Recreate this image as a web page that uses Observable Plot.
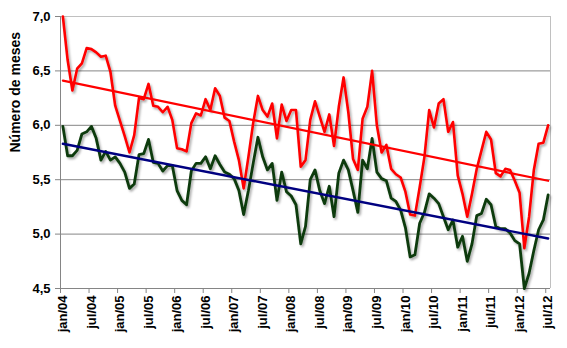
<!DOCTYPE html>
<html><head><meta charset="utf-8">
<script src="https://cdn.jsdelivr.net/npm/d3@7"></script>
<script src="https://cdn.jsdelivr.net/npm/@observablehq/plot@0.6"></script>
<style>
html,body{margin:0;padding:0;background:#fff;}
</style>
</head><body><div id="chart"></div>
<script>
// Month labels shown every 6 months (jan/04 ... jul/12), 103 monthly points
const tickLabels = ["jan/04","jul/04","jan/05","jul/05","jan/06","jul/06","jan/07","jul/07","jan/08","jul/08","jan/09","jul/09","jan/10","jul/10","jan/11","jul/11","jan/12","jul/12"];

const redValues = [
  7.00,6.60,6.32,6.52,6.57,6.71,6.70,6.67,6.63,6.64,6.49,6.18,
  6.04,5.90,5.75,5.91,6.25,6.24,6.38,6.18,6.17,6.12,6.17,6.05,
  5.79,5.78,5.76,6.02,6.11,6.09,6.24,6.14,6.34,6.27,6.07,6.04,
  5.85,5.68,5.42,5.71,6.02,6.27,6.14,6.08,6.20,5.88,6.19,6.04,
  6.14,6.14,5.62,5.68,6.05,6.22,6.08,5.94,6.10,5.81,6.17,6.44,
  6.12,5.69,5.59,6.06,6.17,6.50,6.00,5.75,5.82,5.60,5.55,5.52,
  5.39,5.18,5.17,5.43,5.71,6.14,5.98,6.20,6.24,5.94,6.03,5.54,
  5.37,5.16,5.37,5.60,5.77,5.94,5.87,5.56,5.53,5.60,5.59,5.49,
  5.38,4.87,5.16,5.59,5.83,5.84,6.00
];

const greenValues = [
  5.99,5.72,5.72,5.77,5.92,5.94,5.99,5.88,5.68,5.76,5.68,5.71,
  5.65,5.57,5.42,5.46,5.73,5.74,5.87,5.66,5.65,5.58,5.63,5.63,
  5.40,5.31,5.27,5.58,5.65,5.65,5.71,5.60,5.72,5.64,5.57,5.55,
  5.51,5.40,5.18,5.40,5.65,5.89,5.71,5.59,5.65,5.31,5.57,5.39,
  5.35,5.27,4.91,5.07,5.50,5.59,5.40,5.28,5.44,5.16,5.56,5.68,
  5.59,5.40,5.20,5.68,5.60,5.88,5.57,5.51,5.49,5.33,5.30,5.22,
  5.06,4.79,4.81,5.10,5.20,5.37,5.33,5.28,5.16,5.04,5.13,4.88,
  4.98,4.75,4.91,5.17,5.19,5.32,5.27,5.07,5.05,5.05,5.01,4.94,
  4.91,4.50,4.64,4.85,5.04,5.13,5.36
];

// Trend lines (start and end values)
const trendIndex = [0, 102];
const redTrend = [6.41, 5.49];
const blueTrend = [5.83, 4.96];

const yTicks = [4.5, 5.0, 5.5, 6.0, 6.5, 7.0];

const rows = redValues.map((v, i) => ({i, red: v, green: greenValues[i]}));
const redTrendRows = trendIndex.map((i, k) => ({i, v: redTrend[k]}));
const blueTrendRows = trendIndex.map((i, k) => ({i, v: blueTrend[k]}));
const labelIdx = tickLabels.map((_, k) => k * 6);
const boundaryIdx = tickLabels.map((_, k) => k * 6 - 0.5);

const chart = Plot.plot({
  width: 567, height: 348,
  marginLeft: 60, marginRight: 17, marginTop: 16, marginBottom: 60,
  style: {fontFamily: "'Liberation Sans', Arial, sans-serif", fontSize: "13px", fontWeight: "bold", color: "#000", background: "#fff"},
  x: {type: "linear", domain: [-0.5, 102.5]},
  y: {domain: [4.5, 7.0]},
  marks: [
    Plot.ruleY([5.0, 5.5, 6.0, 6.5], {stroke: "#858585", strokeWidth: 1}),
    Plot.ruleY([7.0], {stroke: "#c0c0c0", strokeWidth: 1}),
    Plot.ruleX([102.5], {stroke: "#c0c0c0", strokeWidth: 1}),
    Plot.ruleX([-0.5], {stroke: "#858585", strokeWidth: 1}),
    Plot.ruleY([4.5], {stroke: "#858585", strokeWidth: 1}),
    Plot.axisY({ticks: yTicks, tickFormat: d => d.toFixed(1).replace(".", ","), tickSize: 5, tickPadding: 5, label: null, stroke: "#858585", fontSize: 13, fontWeight: "bold"}),
    Plot.axisX({ticks: boundaryIdx, tickSize: 5, tickFormat: () => "", label: null, stroke: "#858585"}),
    Plot.axisX({ticks: labelIdx, tickSize: 0, tickPadding: 7, tickRotate: -90, tickFormat: d => tickLabels[Math.round(d / 6)], label: null, fontSize: 13, fontWeight: "bold"}),
    Plot.text(["Número de meses"], {frameAnchor: "left", rotate: -90, dx: -45, fontSize: 14, fontWeight: "bold"}),
    Plot.line(rows, {x: "i", y: "red", stroke: "#ff0000", strokeWidth: 2.6}),
    Plot.line(rows, {x: "i", y: "green", stroke: "#0b3a0b", strokeWidth: 2.8}),
    Plot.line(redTrendRows, {x: "i", y: "v", stroke: "#ff0000", strokeWidth: 2.2}),
    Plot.line(blueTrendRows, {x: "i", y: "v", stroke: "#000080", strokeWidth: 2.4})
  ]
});

document.getElementById("chart").appendChild(chart);

const svg = d3.select(chart);
const defs = svg.insert("defs", ":first-child");
const f = defs.append("filter").attr("id", "lineshadow")
  .attr("filterUnits", "userSpaceOnUse")
  .attr("x", 0).attr("y", 0).attr("width", 567).attr("height", 348);
f.append("feDropShadow").attr("dx", 1.5).attr("dy", 2).attr("stdDeviation", 1.2)
  .attr("flood-color", "#000").attr("flood-opacity", 0.35);
svg.selectAll('g[aria-label="line"]').filter((d, k) => k < 2).attr("filter", "url(#lineshadow)");
</script>
</body></html>
